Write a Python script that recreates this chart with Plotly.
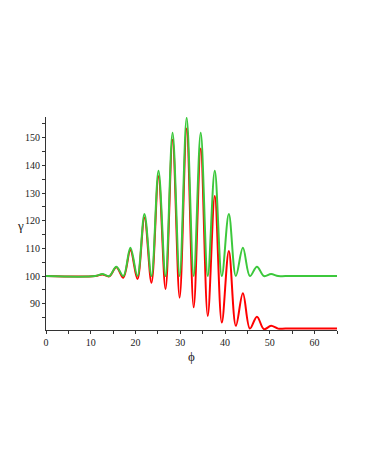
import plotly.graph_objects as go

# phi positions of the flat ends and the extremes (peaks / troughs)
phi = [0, 11.0, 12.57, 14.14, 15.71, 17.28, 18.85, 20.42, 21.99, 23.56, 25.13,
       26.70, 28.27, 29.85, 31.42, 32.99, 34.56, 36.13, 37.70, 39.27, 40.84,
       42.41, 43.98, 45.55, 47.12, 48.69, 50.27, 51.84, 53.5, 65]

gamma_green = [100, 100, 100.7, 100.0, 103.4, 100.0, 110.2, 100.0, 122.4, 100.0, 138.1,
               100.0, 151.8, 100.0, 157.2, 100.0, 151.8, 100.0, 138.1, 100.0, 122.4,
               100.0, 110.2, 100.0, 103.4, 100.0, 100.7, 100.0, 100, 100]

gamma_red = [100, 100, 100.6, 99.9, 103.2, 99.4, 109.4, 98.9, 121.2, 97.6, 136.1,
             95.3, 149.3, 92.2, 153.3, 88.7, 146.1, 85.6, 128.9, 83.2, 109.1,
             82.0, 93.8, 81.0, 85.3, 80.8, 82.0, 81.0, 81.0, 81.0]

x_ticks = [0, 10, 20, 30, 40, 50, 60]
y_ticks = [90, 100, 110, 120, 130, 140, 150]

fig = go.Figure()

fig.add_trace(
    go.Scatter(
        x=phi,
        y=gamma_red,
        mode="lines",
        line={"color": "#ff0000", "width": 2, "shape": "spline", "smoothing": 1.0},
        showlegend=False,
    )
)

fig.add_trace(
    go.Scatter(
        x=phi,
        y=gamma_green,
        mode="lines",
        line={"color": "#3cc83c", "width": 2, "shape": "spline", "smoothing": 1.0},
        showlegend=False,
    )
)

axis_font = {"family": "Liberation Serif", "size": 10, "color": "#222222"}

# the page body adds an 8px margin, so the figure is sized to fit inside it
fig.update_layout(
    width=358,
    height=465,
    margin={"l": 38, "r": 29, "t": 109, "b": 143},
    paper_bgcolor="white",
    plot_bgcolor="white",
    xaxis={
        "range": [0, 65],
        "tickvals": x_ticks,
        "automargin": False,
        "showgrid": False,
        "zeroline": False,
        "showline": True,
        "linecolor": "#333333",
        "linewidth": 1,
        "ticks": "outside",
        "ticklen": 3,
        "tickcolor": "#333333",
        "minor": {"dtick": 5, "ticks": "outside", "ticklen": 3, "tickcolor": "#333333"},
        "tickfont": axis_font,
        "title": {"text": "ϕ", "font": {"family": "Liberation Serif", "size": 13, "color": "#222222"}, "standoff": 4},
    },
    yaxis={
        "range": [80.5, 157.5],
        "tickvals": y_ticks,
        "automargin": False,
        "showgrid": False,
        "zeroline": False,
        "showline": True,
        "linecolor": "#333333",
        "linewidth": 1,
        "ticks": "outside",
        "ticklen": 3,
        "tickcolor": "#333333",
        "minor": {"dtick": 5, "ticks": "outside", "ticklen": 3, "tickcolor": "#333333"},
        "tickfont": axis_font,
    },
    annotations=[
        {
            "text": "γ",
            "x": -26 / 291,
            "y": (330 - 225) / 213,
            "xref": "paper",
            "yref": "paper",
            "xanchor": "center",
            "yanchor": "middle",
            "showarrow": False,
            "font": {"family": "Liberation Serif", "size": 13, "color": "#222222"},
        }
    ],
)

fig.write_html("out.html")
